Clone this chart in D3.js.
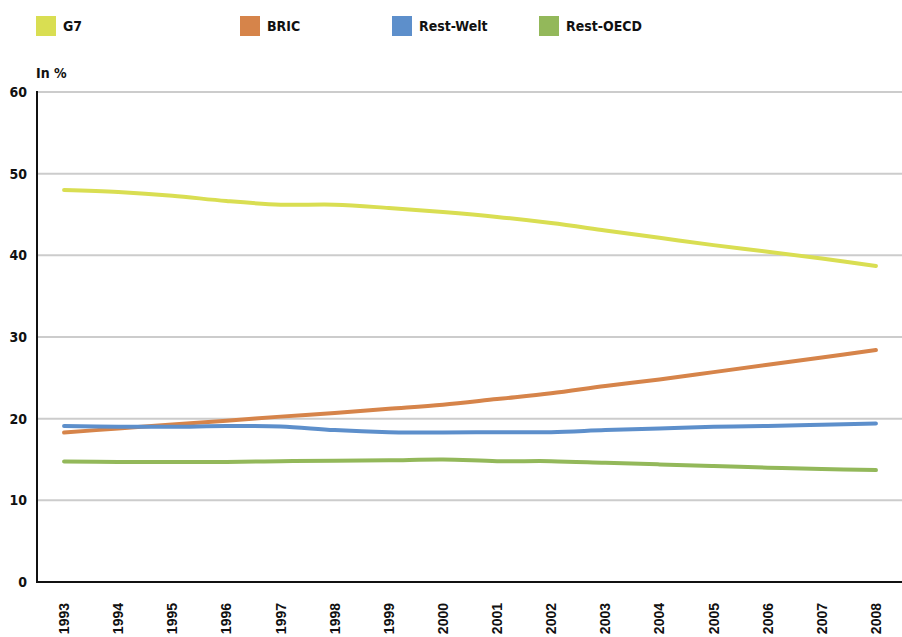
<!DOCTYPE html>
<html>
<head>
<meta charset="utf-8">
<script src="https://cdn.jsdelivr.net/npm/d3@7"></script>
<style>
  html, body { margin: 0; padding: 0; background: #fff; }
  svg { display: block; }
  text { font-family: "DejaVu Sans Condensed", "DejaVu Sans", sans-serif; font-weight: bold; fill: #111; }
  .xlab text { font-family: "Liberation Sans", Arial, sans-serif; }
</style>
</head>
<body>
<svg id="chart" width="902" height="637"></svg>
<script>
// Years on the category axis
const years = ["1993","1994","1995","1996","1997","1998","1999","2000","2001","2002","2003","2004","2005","2006","2007","2008"];

// Shares in percent per group
const g7       = [48.0, 47.75, 47.3, 46.65, 46.2, 46.2, 45.8, 45.3, 44.7, 43.95, 43.05, 42.15, 41.25, 40.45, 39.6, 38.7];
const bric     = [18.3, 18.8, 19.3, 19.75, 20.25, 20.7, 21.2, 21.7, 22.4, 23.1, 24.0, 24.8, 25.7, 26.6, 27.5, 28.4];
const restWelt = [19.1, 19.0, 19.0, 19.1, 19.05, 18.6, 18.35, 18.3, 18.35, 18.35, 18.6, 18.8, 19.0, 19.1, 19.25, 19.4];
const restOECD = [14.75, 14.7, 14.7, 14.7, 14.8, 14.85, 14.9, 15.0, 14.8, 14.8, 14.6, 14.4, 14.2, 14.0, 13.85, 13.7];

const seriesNames  = ["G7", "BRIC", "Rest-Welt", "Rest-OECD"];
const seriesValues = [g7, bric, restWelt, restOECD];
const seriesColors = ["#d9de52", "#d6844a", "#5d8fcb", "#93b85a"];

const yTicks = [0, 10, 20, 30, 40, 50, 60];

const svg = d3.select("#chart");
const plotLeft = 37, plotRight = 903, plotTop = 92, plotBottom = 582;

const x = d3.scaleBand().domain(years).range([plotLeft, plotRight]).paddingInner(0).paddingOuter(0);
const y = d3.scaleLinear().domain([0, 60]).range([plotBottom, plotTop]);

// Horizontal gridlines
svg.append("g")
  .selectAll("line")
  .data(yTicks.filter(d => d > 0))
  .join("line")
  .attr("x1", plotLeft).attr("x2", plotRight)
  .attr("y1", d => y(d)).attr("y2", d => y(d))
  .attr("stroke", "#cccccc").attr("stroke-width", 2);

// Y tick labels
svg.append("g")
  .selectAll("text")
  .data(yTicks)
  .join("text")
  .attr("x", 27)
  .attr("y", d => y(d) + 5)
  .attr("text-anchor", "end")
  .attr("font-size", 14)
  .text(d => d);

// Axis lines
svg.append("line").attr("x1", plotLeft).attr("x2", plotLeft).attr("y1", plotTop - 1).attr("y2", plotBottom + 1)
  .attr("stroke", "#111").attr("stroke-width", 2);
svg.append("line").attr("x1", plotLeft - 1).attr("x2", plotRight).attr("y1", plotBottom).attr("y2", plotBottom)
  .attr("stroke", "#111").attr("stroke-width", 2);

// Year labels, rotated
svg.append("g").attr("class", "xlab")
  .selectAll("text")
  .data(years)
  .join("text")
  .attr("transform", d => `translate(${x(d) + x.bandwidth() / 2 + 5},${603}) rotate(-90)`)
  .attr("text-anchor", "end")
  .attr("font-size", 14)
  .text(d => d);

// Unit label
svg.append("text").attr("x", 36).attr("y", 78).attr("font-size", 14).text("In %");

// Lines
const line = d3.line()
  .x((d, i) => x(years[i]) + x.bandwidth() / 2)
  .y(d => y(d))
  .curve(d3.curveCatmullRom.alpha(0.5));

svg.append("g")
  .selectAll("path")
  .data(seriesValues)
  .join("path")
  .attr("d", d => line(d))
  .attr("fill", "none")
  .attr("stroke", (d, i) => seriesColors[i])
  .attr("stroke-width", 4)
  .attr("stroke-linecap", "round")
  .attr("stroke-linejoin", "round");

// Legend
const legendX = [36, 240, 392, 539];
const legend = svg.append("g")
  .selectAll("g")
  .data(seriesNames)
  .join("g")
  .attr("transform", (d, i) => `translate(${legendX[i]},16)`);
legend.append("rect").attr("width", 20).attr("height", 20).attr("fill", (d, i) => seriesColors[i]);
legend.append("text").attr("x", 27).attr("y", 15).attr("font-size", 14).text(d => d);
</script>
</body>
</html>
